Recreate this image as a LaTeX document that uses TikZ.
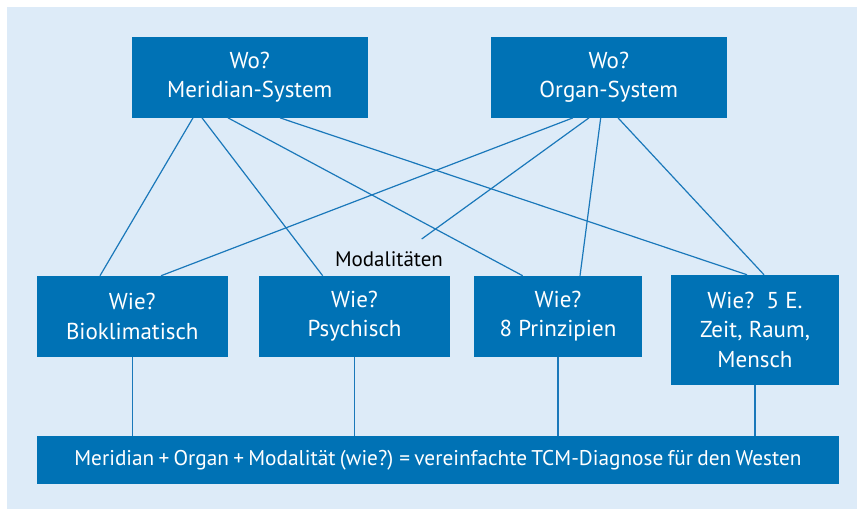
\documentclass[tikz,border=0pt]{standalone}
\usepackage{fontspec}
\setmainfont{PT Sans}
\definecolor{boxblue}{HTML}{0072B5}
\definecolor{bgblue}{HTML}{DDEBF8}
\definecolor{lineblue}{HTML}{1A78BA}
\begin{document}
\begin{tikzpicture}[x=1pt,y=-1pt,
  box/.style={fill=boxblue,text=white,align=center,inner sep=0pt,
    font=\fontsize{23}{29.5}\selectfont},
  link/.style={draw=lineblue,line width=1.2pt}]
\useasboundingbox (0,0) rectangle (857,509);
\fill[white] (0,0) rectangle (857,509);
\fill[bgblue] (7,7) rectangle (857,509);
% top boxes
\node[box,minimum width=235.7,minimum height=80.7] (mer) at (249.8,77.3) {Wo?\\Meridian-System};
\node[box,minimum width=235.7,minimum height=80.7] (org) at (608.8,77.3) {Wo?\\Organ-System};
% lower boxes
\node[box,minimum width=190.7,minimum height=80.7] (bio) at (132.3,316.3) {Wie?\\Bioklimatisch};
\node[box,minimum width=191,minimum height=80.7] (psy) at (354.5,316.3) {Wie?\\Psychisch};
\node[box,minimum width=168,minimum height=80.7] (pri) at (558,316.3) {Wie?\\8 Prinzipien};
\node[box,minimum width=168,minimum height=109.7] (fue) at (755,329.8) {Wie?\ \ 5 E.\\Zeit, Raum,\\Mensch};
% bottom bar
\node[box,minimum width=802,minimum height=47.7,font=\fontsize{21.3}{26}\selectfont] (bar) at (438,460) {\spaceskip=0.2em\relax Meridian + Organ + Modalität (wie?) = vereinfachte TCM-Diagnose für den Westen};
% label
\node[font=\fontsize{21}{24}\selectfont,text=black,inner sep=0pt] (mod) at (389,259) {Modalitäten};
\coordinate (modend) at (421.7,239);
% connectors from Meridian
\draw[link] ([xshift=-56.8]mer.south) -- ([xshift=-32.3]bio.north);
\draw[link] ([xshift=-47.8]mer.south) -- ([xshift=-31.8]psy.north);
\draw[link] ([xshift=-21.8]mer.south) -- ([xshift=-35.3]pri.north);
\draw[link] ([xshift=30.2]mer.south) -- ([xshift=-8]fue.north);
% connectors from Organ
\draw[link] ([xshift=-35.8]org.south) -- ([xshift=28.7]bio.north);
\draw[link] ([xshift=-19.8]org.south) -- (modend);
\draw[link] ([xshift=-8.1]org.south) -- ([xshift=22]pri.north);
\draw[link] ([xshift=9.2]org.south) -- ([xshift=9]fue.north);
% vertical connectors
\foreach \n in {bio,psy,pri,fue}
  \draw[link] (\n.south) -- (\n.south |- bar.north);
\end{tikzpicture}
\end{document}
